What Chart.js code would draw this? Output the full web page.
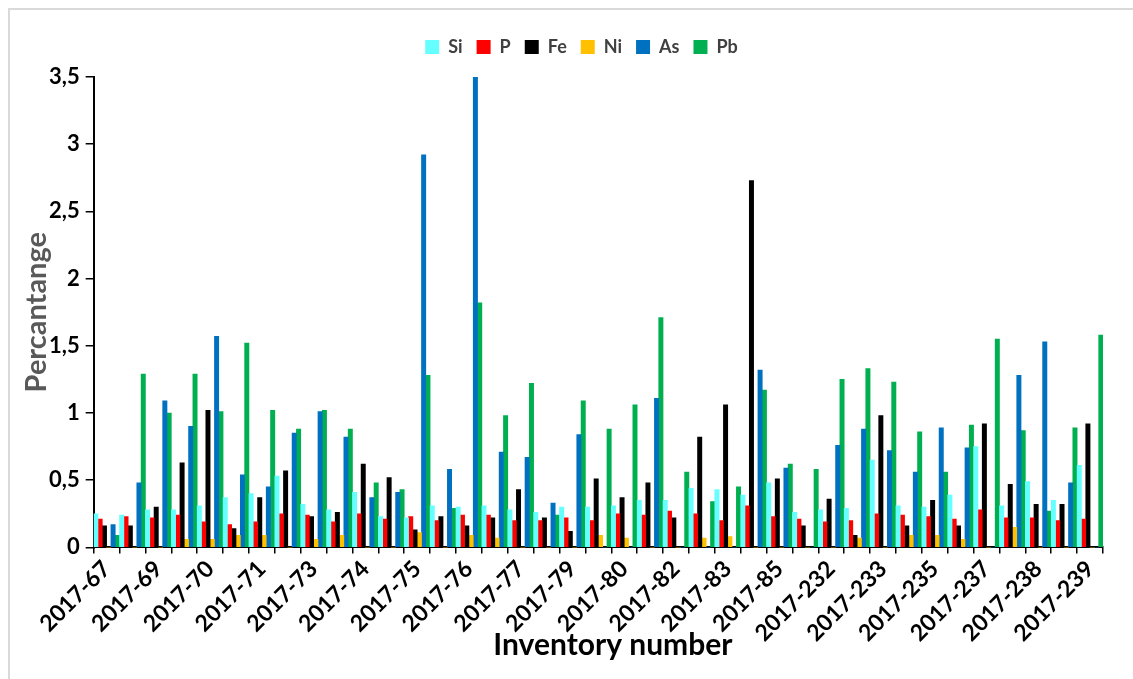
<!DOCTYPE html>
<html>
<head>
<meta charset="utf-8">
<script src="https://cdn.jsdelivr.net/npm/chart.js@4.4.0/dist/chart.umd.min.js"></script>
<style>
    body { margin: 0; background: #fff; }
    #wrap { position: relative; width: 1133px; height: 679px; overflow: hidden; }
    #frame { position: absolute; left: 8px; top: 8px; width: 1140px; height: 700px; border-left: 2px solid #d9d9d9; border-top: 2px solid #d9d9d9; }
    canvas { position: absolute; left: 0; top: 0; }
</style>
</head>
<body>
<div id="wrap">
    <div id="frame"></div>
    <canvas id="barChart" width="1133" height="679"></canvas>
</div>
<script>
// categorie (solo quelle pari vengono mostrate sull'asse)
const inventory = [
    "2017-67", "2017-68", "2017-69", "2017-69", "2017-70", "2017-70", "2017-71", "2017-72",
    "2017-73", "2017-73", "2017-74", "2017-74", "2017-75", "2017-75", "2017-76", "2017-76",
    "2017-77", "2017-78", "2017-79", "2017-79", "2017-80", "2017-81", "2017-82", "2017-82",
    "2017-83", "2017-84", "2017-85", "2017-231", "2017-232", "2017-232", "2017-233", "2017-234",
    "2017-235", "2017-236", "2017-237", "2017-237", "2017-238", "2017-238", "2017-239"
];

const si = [0.25, 0.24, 0.28, 0.28, 0.31, 0.37, 0.40, 0.53, 0.32, 0.28, 0.41, 0.23, 0.22, 0.31, 0.30, 0.31,
    0.28, 0.26, 0.30, 0.30, 0.31, 0.35, 0.35, 0.44, 0.43, 0.39, 0.48, 0.26, 0.28, 0.29, 0.65, 0.31,
    0.30, 0.39, 0.75, 0.31, 0.49, 0.35, 0.61];
const p = [0.21, 0.23, 0.22, 0.24, 0.19, 0.17, 0.19, 0.25, 0.24, 0.19, 0.25, 0.21, 0.23, 0.20, 0.24, 0.24,
    0.20, 0.20, 0.22, 0.20, 0.25, 0.24, 0.27, 0.25, 0.20, 0.31, 0.23, 0.21, 0.19, 0.20, 0.25, 0.24,
    0.23, 0.21, 0.28, 0.22, 0.22, 0.20, 0.21];
const fe = [0.16, 0.16, 0.30, 0.63, 1.02, 0.14, 0.37, 0.57, 0.23, 0.26, 0.62, 0.52, 0.13, 0.23, 0.16, 0.22,
    0.43, 0.22, 0.12, 0.51, 0.37, 0.48, 0.22, 0.82, 1.06, 2.73, 0.51, 0.16, 0.36, 0.09, 0.98, 0.16,
    0.35, 0.16, 0.92, 0.47, 0.32, 0.32, 0.92];
const ni = [0, 0, 0, 0.06, 0.06, 0.09, 0.09, 0, 0.06, 0.09, 0, 0, 0.11, 0, 0.09, 0.07,
    0, 0, 0, 0.09, 0.07, 0, 0, 0.07, 0.08, 0, 0, 0, 0, 0.07, 0, 0.09,
    0.09, 0.06, 0, 0.15, 0, 0, 0];
const as = [0.17, 0.48, 1.09, 0.90, 1.57, 0.54, 0.45, 0.85, 1.01, 0.82, 0.37, 0.41, 2.92, 0.58, 3.50, 0.71,
    0.67, 0.33, 0.84, 0, 0, 1.11, 0, 0, 0, 1.32, 0.59, 0, 0.76, 0.88, 0.72, 0.56,
    0.89, 0.74, 0, 1.28, 1.53, 0.48, 0];
const pb = [0.09, 1.29, 1.00, 1.29, 1.01, 1.52, 1.02, 0.88, 1.02, 0.88, 0.48, 0.43, 1.28, 0.29, 1.82, 0.98,
    1.22, 0.24, 1.09, 0.88, 1.06, 1.71, 0.56, 0.34, 0.45, 1.17, 0.62, 0.58, 1.25, 1.33, 1.23, 0.86,
    0.56, 0.91, 1.55, 0.87, 0.27, 0.89, 1.58];

const elements = ["Si", "P", "Fe", "Ni", "As", "Pb"];
const colors = ["#66FFFF", "#FF0000", "#000000", "#FFC000", "#0070C0", "#00B050"];
const yTicks = [0, 0.5, 1, 1.5, 2, 2.5, 3, 3.5];

const font = "Lato";
const series = [si, p, fe, ni, as, pb];

// spazio extra sotto la legenda e legenda spostata un po' a destra
const legendSpace = {
    id: 'legendSpace',
    beforeInit(chart) {
        const origFit = chart.legend.fit;
        chart.legend.fit = function () {
            origFit.call(this);
            this.height += 11;
        };
    },
    afterLayout(chart) {
        chart.legend.left += 22;
        chart.legend.right += 22;
    }
};

const ctx = document.getElementById('barChart').getContext('2d');
new Chart(ctx, {
    type: 'bar',
    data: {
        labels: inventory,
        datasets: elements.map((name, i) => ({
            label: name,
            data: series[i],
            backgroundColor: colors[i],
            borderWidth: 0,
            categoryPercentage: 1.0,
            barPercentage: 1.0
        }))
    },
    options: {
        responsive: false,
        animation: false,
        layout: {
            padding: { left: 16, right: 30, top: 24, bottom: 16 }
        },
        scales: {
            x: {
                offset: true,
                grid: {
                    display: true,
                    drawOnChartArea: false,
                    drawTicks: true,
                    tickLength: 6,
                    color: '#000',
                    lineWidth: 1.5
                },
                border: { display: true, color: '#000', width: 2 },
                ticks: {
                    autoSkip: false,
                    maxRotation: 45,
                    minRotation: 45,
                    padding: 2,
                    color: '#000',
                    font: { family: font, size: 23, weight: 'bold' },
                    callback: function (value, index) {
                        return index % 2 === 0 ? this.getLabelForValue(value) : '';
                    }
                },
                title: {
                    display: true,
                    text: '\u00A0\u00A0\u00A0\u00A0Inventory number',
                    color: '#000',
                    padding: { top: -22, bottom: 0 },
                    font: { family: font, size: 30, weight: 'bold' }
                }
            },
            y: {
                min: 0,
                max: 3.5,
                afterBuildTicks: (axis) => {
                    axis.ticks = yTicks.map(v => ({ value: v }));
                },
                grid: {
                    display: true,
                    drawOnChartArea: false,
                    drawTicks: true,
                    tickLength: 8,
                    color: '#000',
                    lineWidth: 1.5
                },
                border: { display: true, color: '#000', width: 2 },
                ticks: {
                    padding: 6,
                    color: '#000',
                    font: { family: font, size: 22, weight: 'bold' },
                    callback: (v) => String(v).replace('.', ',')
                },
                title: {
                    display: true,
                    text: 'Percantange',
                    color: '#595959',
                    padding: { top: 6, bottom: -8 },
                    font: { family: font, size: 29, weight: 'bold', lineHeight: 1 }
                }
            }
        },
        plugins: {
            legend: {
                position: 'top',
                labels: {
                    boxWidth: 14,
                    boxHeight: 14,
                    padding: 14,
                    color: '#404040',
                    font: { family: font, size: 18, weight: 'bold' }
                }
            },
            tooltip: { enabled: false }
        }
    },
    plugins: [legendSpace]
});
</script>
</body>
</html>
